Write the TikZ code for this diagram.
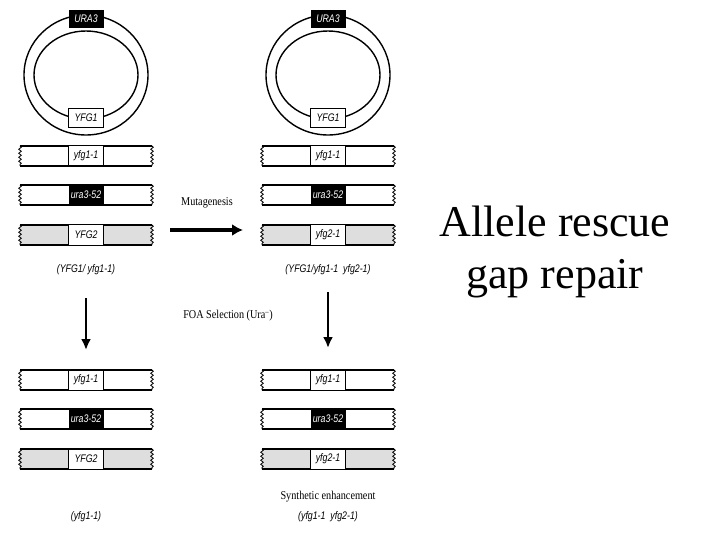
\documentclass[tikz,border=0pt]{standalone}
\usepackage{fontspec}
\setmainfont{Liberation Serif}
\newfontfamily\gsans{Liberation Sans}
\usetikzlibrary{decorations.pathmorphing,arrows.meta}
\tikzset{
 x=1pt,y=-1pt,
 gl/.style={font=\gsans\itshape\fontsize{11}{12}\selectfont\addfontfeature{FakeStretch=0.8},inner sep=0},
 wav/.style={decorate,decoration={snake,amplitude=1.3pt,segment length=4pt}},
 big/.style={-{Latex[length=11pt,width=12pt]},line width=3.6pt},
 dn/.style={-{Latex[length=11pt,width=10pt]},line width=2.6pt},
 lab/.style={font=\fontsize{12}{13}\selectfont\addfontfeature{FakeStretch=0.85},inner sep=0},
}
\newcommand{\chrbar}[3]{% x0, yc, fill
 \fill[#3] (#1,#2-10) rectangle (#1+132,#2+10);
 \draw[line width=2pt] (#1,#2-10) -- (#1+132,#2-10) (#1,#2+10) -- (#1+132,#2+10);
 \draw[wav,line width=0.8pt] (#1,#2-10) -- (#1,#2+10);
 \draw[wav,line width=0.8pt] (#1+132,#2-10) -- (#1+132,#2+10);
}
\newcommand{\plasmid}[1]{%
 \draw[line width=1.4pt] (#1,75) ellipse [x radius=62,y radius=60];
 \draw[line width=1.4pt] (#1,75) ellipse [x radius=52,y radius=44];
}
\begin{document}
\begin{tikzpicture}
\useasboundingbox (0,0) rectangle (720,540);
\fill[white] (0,0) rectangle (720,540);
\plasmid{86}
\node[gl,fill=black,text=white,minimum width=35pt,minimum height=18pt] (ura3a) at (86,19) {URA3};
\node[gl,fill=white,draw,line width=1pt,minimum width=35pt,minimum height=19pt] (yfg1a) at (86,118) {YFG1};
\plasmid{328}
\node[gl,fill=black,text=white,minimum width=35pt,minimum height=18pt] (ura3b) at (328,19) {URA3};
\node[gl,fill=white,draw,line width=1pt,minimum width=35pt,minimum height=19pt] (yfg1b) at (328,118) {YFG1};
\foreach \x in {20,262}{
 \foreach \yy in {156,380,195,419}{\chrbar{\x}{\yy}{white}}
 \foreach \yy in {235,459}{\chrbar{\x}{\yy}{black!13}}
}
\tikzset{gb/.style={gl,draw,line width=1pt,fill=white,minimum width=35pt,minimum height=20pt},
 kb/.style={gl,fill=black,text=white,minimum width=35pt,minimum height=22pt}}
\node[gb] (a1) at (86,156) {yfg1-1};
\node[kb] (a2) at (86,195) {ura3-52};
\node[gb] (a3) at (86,235) {YFG2};
\node[gb] (c1) at (86,380) {yfg1-1};
\node[kb] (c2) at (86,419) {ura3-52};
\node[gb] (c3) at (86,459) {YFG2};
\node[gb] (b1) at (328,156) {yfg1-1};
\node[kb] (b2) at (328,195) {ura3-52};
\node[gb] (b3) at (328,235) {yfg2-1};
\node[gb] (d1) at (328,380) {yfg1-1};
\node[kb] (d2) at (328,419) {ura3-52};
\node[gb] (d3) at (328,459) {yfg2-1};
\node[gl] (la) at (86,270) {(YFG1/ yfg1-1)};
\node[gl] (lb) at (328,270) {(YFG1/yfg1-1\ \ yfg2-1)};
\node[gl] (lc) at (86,517) {(yfg1-1)};
\node[lab] (ld) at (328,497) {Synthetic enhancement};
\node[gl] (le) at (328,517) {(yfg1-1\ \ yfg2-1)};
\node[lab] (mut) at (207,203) {Mutagenesis};
\node[lab] (foa) at (228,316) {FOA Selection (Ura\textsuperscript{--})};
\coordinate (m1) at (170,230); \coordinate (m2) at (243,230);
\draw[big] (m1) -- (m2);
\coordinate (p1) at (86,298); \coordinate (p2) at (86,350);
\draw[dn] (p1) -- (p2);
\coordinate (q1) at (328,292); \coordinate (q2) at (328,348);
\draw[dn] (q1) -- (q2);
\node[font=\fontsize{44}{52}\selectfont,align=center] (title) at (555,252) {Allele rescue\\gap repair};
\end{tikzpicture}
\end{document}
